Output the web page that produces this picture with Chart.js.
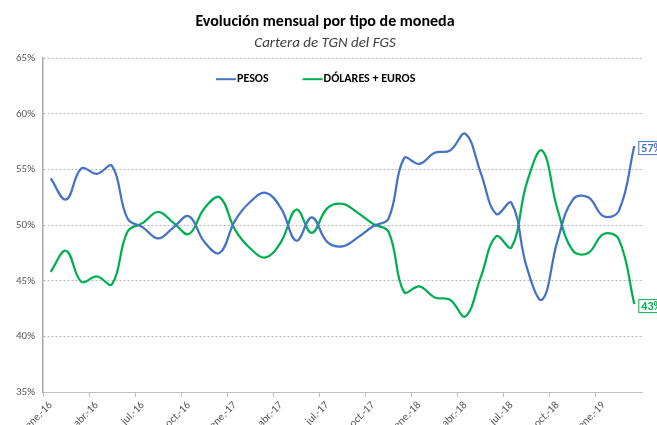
<!DOCTYPE html>
<html>
<head>
<meta charset="utf-8">
<script src="https://cdn.jsdelivr.net/npm/chart.js@4.4.1/dist/chart.umd.min.js"></script>
<style>
  html, body { margin: 0; padding: 0; background: #fff; overflow: hidden; }
  #wrap { position: relative; width: 657px; height: 434px; }
</style>
</head>
<body>
<div id="wrap"><canvas id="chart"></canvas></div>
<script>
// months ene.-16 .. mar.-19
const months = [
  "ene.-16", "feb.-16", "mar.-16", "abr.-16", "may.-16", "jun.-16",
  "jul.-16", "ago.-16", "sep.-16", "oct.-16", "nov.-16", "dic.-16",
  "ene.-17", "feb.-17", "mar.-17", "abr.-17", "may.-17", "jun.-17",
  "jul.-17", "ago.-17", "sep.-17", "oct.-17", "nov.-17", "dic.-17",
  "ene.-18", "feb.-18", "mar.-18", "abr.-18", "may.-18", "jun.-18",
  "jul.-18", "ago.-18", "sep.-18", "oct.-18", "nov.-18", "dic.-18",
  "ene.-19", "feb.-19", "mar.-19"
];

// % of the portfolio
const pesos = [
  54.2, 52.3, 55.1, 54.6, 55.3, 50.6, 49.8, 48.8, 49.8, 50.8, 48.5, 47.5,
  50.4, 52.1, 52.9, 51.5, 48.6, 50.7, 48.5, 48.1, 48.9, 49.9, 50.6, 56.0,
  55.5, 56.5, 56.7, 58.2, 54.7, 51.0, 52.0, 46.2, 43.3, 48.6, 52.3, 52.5,
  50.8, 51.3, 57.1
];
const dolaresEuros = [
  45.8, 47.7, 44.9, 45.4, 44.7, 49.4, 50.2, 51.2, 50.2, 49.2, 51.5, 52.5,
  49.6, 47.9, 47.1, 48.5, 51.4, 49.3, 51.5, 51.9, 51.1, 50.1, 49.4, 44.0,
  44.5, 43.5, 43.3, 41.8, 45.3, 49.0, 48.0, 53.8, 56.7, 51.4, 47.7, 47.5,
  49.2, 48.7, 42.9
];

const seriesNames = ["PESOS", "DÓLARES + EUROS"];
const seriesColors = ["#4472C4", "#00B050"];

const FONT = "Calibri, Carlito, Lato, sans-serif";

// legend drawn inside the plot, like the excel one
const innerLegend = {
  id: "innerLegend",
  afterDraw(chart) {
    const { ctx, chartArea } = chart;
    const y = chartArea.top + 21;
    let x = chartArea.left + 173;
    ctx.save();
    ctx.font = "bold 12px " + FONT;
    ctx.textBaseline = "middle";
    chart.data.datasets.forEach((ds) => {
      ctx.strokeStyle = ds.borderColor;
      ctx.lineWidth = 2;
      ctx.beginPath();
      ctx.moveTo(x, y);
      ctx.lineTo(x + 20, y);
      ctx.stroke();
      ctx.fillStyle = "#000";
      ctx.fillText(ds.label, x + 21, y);
      x += 21 + ctx.measureText(ds.label).width + 34;
    });
    ctx.restore();
  },
};

// boxed value at the last point of each line
const endLabels = {
  id: "endLabels",
  afterDatasetsDraw(chart) {
    const ctx = chart.ctx;
    chart.data.datasets.forEach((ds, i) => {
      const meta = chart.getDatasetMeta(i);
      const pt = meta.data[meta.data.length - 1];
      const txt = Math.round(ds.data[ds.data.length - 1]) + "%";
      ctx.save();
      ctx.font = "bold 12px " + FONT;
      const w = ctx.measureText(txt).width + 6;
      const bx = pt.x + 4;
      const cy = pt.y + 2;
      ctx.fillStyle = "#fff";
      ctx.fillRect(bx, cy - 7, w, 14);
      ctx.strokeStyle = ds.borderColor;
      ctx.lineWidth = 1;
      ctx.strokeRect(bx + 0.5, cy - 6.5, w, 13);
      ctx.fillStyle = ds.borderColor;
      ctx.textBaseline = "middle";
      ctx.fillText(txt, bx + 3, cy + 0.5);
      ctx.restore();
    });
  },
};

const ctx = document.getElementById("chart").getContext("2d");
const chart = new Chart(ctx, {
  type: "line",
  data: {
    labels: months,
    datasets: [
      {
        label: seriesNames[0],
        data: pesos,
        borderColor: seriesColors[0],
        backgroundColor: seriesColors[0],
      },
      {
        label: seriesNames[1],
        data: dolaresEuros,
        borderColor: seriesColors[1],
        backgroundColor: seriesColors[1],
      },
    ].map((d) => ({ ...d, borderWidth: 2.25, pointRadius: 0, tension: 0.4, fill: false })),
  },
  options: {
    responsive: true,
    maintainAspectRatio: false,
    animation: false,
    layout: { padding: { left: 8, right: 15, top: 0, bottom: 0 } },
    plugins: {
      legend: { display: false },
      tooltip: { enabled: false },
      title: {
        display: true,
        text: "Evolución mensual por tipo de moneda",
        color: "#000",
        font: { family: FONT, size: 16, weight: "bold" },
        padding: { top: 12, bottom: 3 },
      },
      subtitle: {
        display: true,
        text: "Cartera de TGN del FGS",
        color: "#404040",
        font: { family: FONT, size: 15, style: "italic" },
        padding: { top: 0, bottom: 6 },
      },
    },
    scales: {
      x: {
        offset: true,
        grid: {
          offset: true,
          drawOnChartArea: false,
          drawTicks: true,
          tickLength: 5,
          color: (c) => (c.index % 3 === 0 ? "#bfbfbf" : "rgba(0,0,0,0)"),
        },
        border: { display: true, color: "#bfbfbf", width: 1 },
        ticks: {
          autoSkip: false,
          minRotation: 45,
          maxRotation: 45,
          padding: 2,
          color: "#595959",
          font: { family: FONT, size: 11 },
          callback: function (v, i) {
            return i % 3 === 0 ? this.getLabelForValue(v) : "";
          },
        },
      },
      y: {
        min: 35,
        max: 65,
        ticks: {
          stepSize: 5,
          padding: 8,
          color: "#595959",
          font: { family: FONT, size: 11 },
          callback: (v) => v + "%",
        },
        grid: { drawTicks: false, color: "#b4b4b4", lineWidth: 1 },
        // dotted gridlines, solid axis line (v4 takes the grid dash from border.dash)
        border: {
          display: true,
          color: "#a6a6a6",
          width: 1.5,
          dash: (c) => (c.type === "tick" ? [2, 2] : []),
        },
      },
    },
  },
  plugins: [innerLegend, endLabels],
});
</script>
</body>
</html>
